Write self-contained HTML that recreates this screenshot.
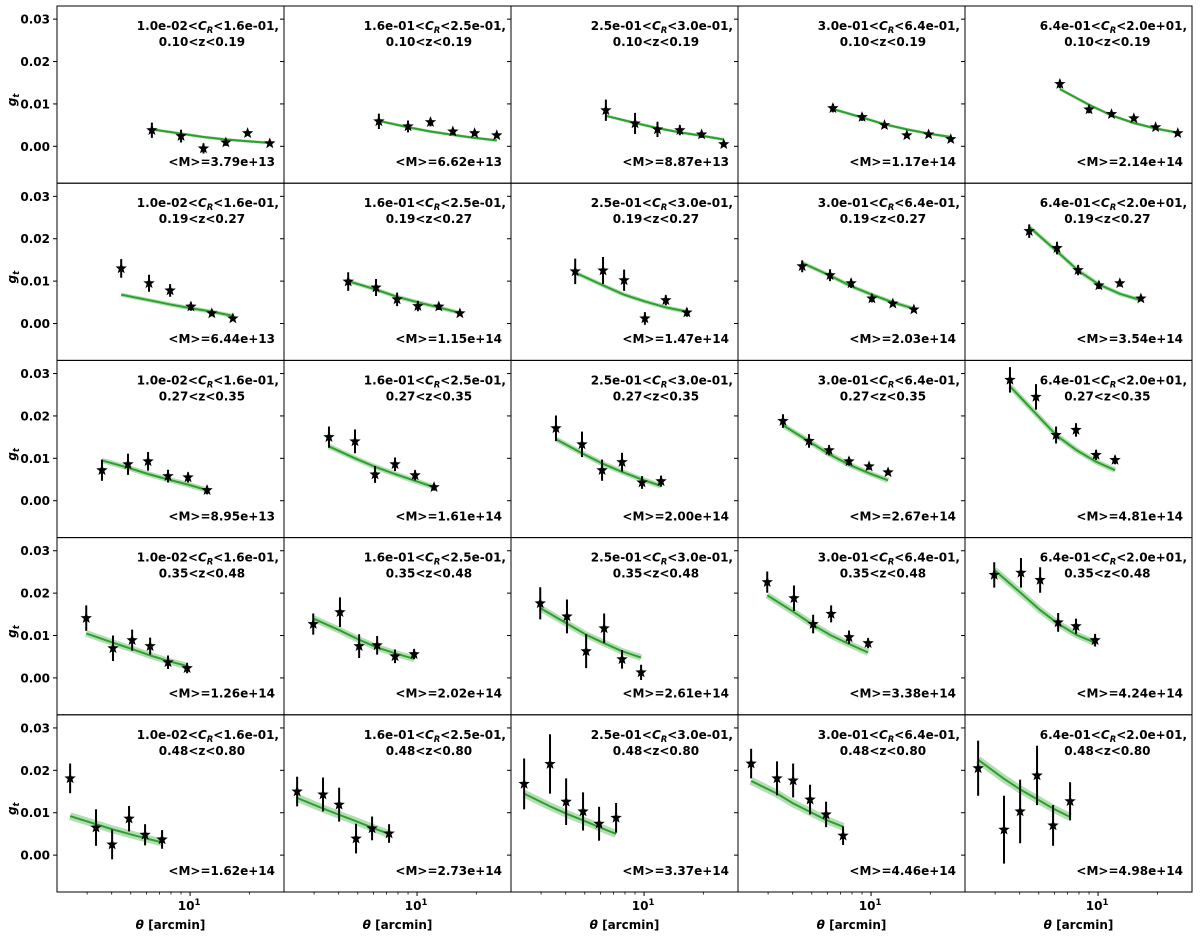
<!DOCTYPE html>
<html><head><meta charset="utf-8">
<style>
html,body{margin:0;padding:0;background:#fff;}
svg text{font-family:"DejaVu Sans","Liberation Sans",sans-serif;fill:#000;}
</style></head>
<body>
<svg id="fig" width="1200" height="932" viewBox="0 0 1200 932" xmlns="http://www.w3.org/2000/svg"></svg>
<script>
// ---- data ----
const richLabels = ["1.0e-02","1.6e-01","2.5e-01","3.0e-01","6.4e-01","2.0e+01"];
const zLabels = ["0.10","0.19","0.27","0.35","0.48","0.80"];
const massLabels = [
 ["3.79e+13","6.62e+13","8.87e+13","1.17e+14","2.14e+14"],
 ["6.44e+13","1.15e+14","1.47e+14","2.03e+14","3.54e+14"],
 ["8.95e+13","1.61e+14","2.00e+14","2.67e+14","4.81e+14"],
 ["1.26e+14","2.02e+14","2.61e+14","3.38e+14","4.24e+14"],
 ["1.62e+14","2.73e+14","3.37e+14","4.46e+14","4.98e+14"]];
const thetaRows = [
 [6.4,9.0,11.7,15.2,19.6,25.4],
 [4.47,6.19,7.92,10.1,12.9,16.5],
 [3.57,4.84,6.12,7.73,9.77,12.2],
 [2.97,4.06,5.08,6.27,7.73,9.66],
 [2.46,3.33,4.02,4.90,5.91,7.21]];
const gtObs = [
 [[0.0038,0.0024,-0.0005,0.0009,0.0031,0.0007],[0.0059,0.0047,0.0057,0.0035,0.0031,0.0026],[0.0085,0.0054,0.0040,0.0038,0.0028,0.0005],[0.0090,0.0069,0.0050,0.0026,0.0028,0.0017],[0.0147,0.0087,0.0076,0.0066,0.0045,0.0031]],
 [[0.0130,0.0095,0.0078,0.0040,0.0024,0.0012],[0.0099,0.0085,0.0057,0.0041,0.0040,0.0024],[0.0123,0.0125,0.0102,0.0012,0.0055,0.0026],[0.0135,0.0114,0.0095,0.0059,0.0047,0.0033],[0.0218,0.0178,0.0126,0.0090,0.0095,0.0059]],
 [[0.0072,0.0086,0.0093,0.0058,0.0055,0.0025],[0.0150,0.0140,0.0062,0.0086,0.0060,0.0032],[0.0171,0.0133,0.0072,0.0091,0.0043,0.0046],[0.0188,0.0141,0.0119,0.0093,0.0081,0.0067],[0.0285,0.0245,0.0155,0.0167,0.0108,0.0096]],
 [[0.0141,0.0070,0.0089,0.0075,0.0037,0.0023],[0.0127,0.0155,0.0075,0.0077,0.0051,0.0056],[0.0176,0.0145,0.0063,0.0117,0.0044,0.0013],[0.0226,0.0188,0.0127,0.0151,0.0096,0.0082],[0.0243,0.0248,0.0231,0.0131,0.0122,0.0089]],
 [[0.0181,0.0065,0.0025,0.0086,0.0048,0.0037],[0.0150,0.0143,0.0119,0.0039,0.0063,0.0051],[0.0168,0.0215,0.0126,0.0103,0.0074,0.0088],[0.0216,0.0181,0.0176,0.0131,0.0096,0.0046],[0.0205,0.0060,0.0103,0.0188,0.0070,0.0127]]];
const gtErr = [
 [[0.0018,0.0015,0.0012,0.0008,0.0005,0.0005],[0.0018,0.0014,0.0010,0.0008,0.0006,0.0005],[0.0025,0.0025,0.0018,0.0012,0.0008,0.0006],[0.0010,0.0009,0.0007,0.0006,0.0005,0.0005],[0.0010,0.0009,0.0007,0.0006,0.0005,0.0005]],
 [[0.0022,0.0020,0.0015,0.0010,0.0007,0.0005],[0.0022,0.0020,0.0016,0.0012,0.0008,0.0006],[0.0030,0.0032,0.0025,0.0015,0.0012,0.0010],[0.0014,0.0014,0.0011,0.0009,0.0006,0.0006],[0.0016,0.0015,0.0012,0.0009,0.0008,0.0006]],
 [[0.0025,0.0025,0.0022,0.0015,0.0012,0.0010],[0.0025,0.0028,0.0020,0.0016,0.0012,0.0008],[0.0030,0.0030,0.0025,0.0022,0.0015,0.0013],[0.0016,0.0016,0.0012,0.0010,0.0008,0.0006],[0.0030,0.0030,0.0020,0.0016,0.0012,0.0010]],
 [[0.0030,0.0030,0.0025,0.0020,0.0016,0.0012],[0.0025,0.0035,0.0028,0.0022,0.0016,0.0012],[0.0038,0.0040,0.0040,0.0035,0.0022,0.0018],[0.0025,0.0030,0.0022,0.0020,0.0016,0.0012],[0.0030,0.0035,0.0030,0.0022,0.0018,0.0015]],
 [[0.0035,0.0043,0.0035,0.0030,0.0025,0.0022],[0.0035,0.0040,0.0040,0.0035,0.0028,0.0022],[0.0060,0.0070,0.0055,0.0045,0.0040,0.0035],[0.0035,0.0040,0.0040,0.0035,0.0030,0.0022],[0.0065,0.0080,0.0075,0.0070,0.0048,0.0045]]];
const gtModel = [
 [[0.0040,0.0030,0.0022,0.0016,0.0012,0.0008],[0.0060,0.0045,0.0035,0.0027,0.0020,0.0014],[0.0072,0.0055,0.0043,0.0033,0.0025,0.0016],[0.0088,0.0068,0.0052,0.0040,0.0030,0.0022],[0.0135,0.0098,0.0073,0.0055,0.0042,0.0032]],
 [[0.0068,0.0055,0.0045,0.0036,0.0028,0.0018],[0.0100,0.0080,0.0063,0.0050,0.0038,0.0025],[0.0120,0.0090,0.0068,0.0052,0.0038,0.0028],[0.0143,0.0113,0.0088,0.0068,0.0050,0.0035],[0.0228,0.0170,0.0125,0.0092,0.0070,0.0055]],
 [[0.0095,0.0078,0.0063,0.0050,0.0038,0.0025],[0.0128,0.0100,0.0080,0.0063,0.0047,0.0032],[0.0145,0.0112,0.0088,0.0068,0.0050,0.0035],[0.0178,0.0140,0.0110,0.0085,0.0065,0.0048],[0.0270,0.0205,0.0155,0.0120,0.0092,0.0072]],
 [[0.0105,0.0083,0.0068,0.0053,0.0040,0.0028],[0.0140,0.0112,0.0090,0.0072,0.0058,0.0045],[0.0165,0.0128,0.0102,0.0082,0.0063,0.0048],[0.0195,0.0155,0.0125,0.0100,0.0080,0.0060],[0.0255,0.0200,0.0160,0.0128,0.0102,0.0083]],
 [[0.0092,0.0073,0.0061,0.0050,0.0040,0.0030],[0.0135,0.0110,0.0095,0.0080,0.0065,0.0050],[0.0145,0.0115,0.0098,0.0082,0.0066,0.0050],[0.0175,0.0145,0.0122,0.0102,0.0083,0.0067],[0.0225,0.0180,0.0155,0.0132,0.0110,0.0090]]];
const yTicks = [0.00,0.01,0.02,0.03];
const yTickLabels = ["0.00","0.01","0.02","0.03"];
const xMinor = [3,4,5,6,7,8,9,20];

// ---- layout ----
const NS="http://www.w3.org/2000/svg";
const svg=document.getElementById('fig');
const L0=57, PW=227, T0=6, PH=177.2;
const XMIN=Math.log10(2.11), XMAX=Math.log10(30.0);
const YMIN=-0.0087, YMAX=0.0331;
function mk(tag,attrs,parent){const e=document.createElementNS(NS,tag);for(const k in attrs)e.setAttribute(k,attrs[k]);(parent||svg).appendChild(e);return e;}
function xs(c,t){return L0+c*PW+(Math.log10(t)-XMIN)/(XMAX-XMIN)*PW;}
function ys(r,g){return T0+r*PH+(YMAX-g)/(YMAX-YMIN)*PH;}
function starPath(cx,cy,R){const r=R*0.42;let d="";for(let i=0;i<10;i++){const a=-Math.PI/2+i*Math.PI/5;const rr=i%2?r:R;d+=(i?"L":"M")+(cx+rr*Math.cos(a)).toFixed(2)+","+(cy+rr*Math.sin(a)).toFixed(2);}return d+"Z";}

for(let r=0;r<5;r++){
 for(let c=0;c<5;c++){
  const px=L0+c*PW, py=T0+r*PH;
  const g=mk('g',{});
  
  
  const cp=mk('clipPath',{id:'cp'+r+c},g);
  mk('rect',{x:px,y:py,width:PW,height:PH},cp);
  const plot=mk('g',{'clip-path':'url(#cp'+r+c+')'},g);
  // model band + line
  const th=thetaRows[r], m=gtModel[r][c];
  let d="";
  for(let i=0;i<th.length;i++){d+=(i?"L":"M")+xs(c,th[i]).toFixed(2)+","+ys(r,m[i]).toFixed(2);}
  const band=mk('path',{d:d,fill:'none',stroke:'#2ca02c','stroke-opacity':0.35,'stroke-width':3+r*1.2,'stroke-linejoin':'round'},plot);
  
  
  const line=mk('path',{d:d,fill:'none',stroke:'#2ca02c','stroke-width':2,'stroke-linejoin':'round'},plot);
  
  
  // data points
  const ob=gtObs[r][c], er=gtErr[r][c];
  for(let i=0;i<th.length;i++){
   const x=xs(c,th[i]), y=ys(r,ob[i]);
   const eb=mk('line',{x1:x,x2:x,y1:ys(r,ob[i]+er[i]),y2:ys(r,ob[i]-er[i]),stroke:'#000','stroke-width':2},plot);
   
   
   const st=mk('path',{d:starPath(x,y,6),fill:'#000'},plot);
   
   
  }
  // frame
  const fr=mk('rect',{x:px,y:py,width:PW,height:PH,fill:'none',stroke:'#000','stroke-width':1},g);
  
  
  // y ticks
  for(let k=0;k<yTicks.length;k++){
   const y=ys(r,yTicks[k]);
   mk('line',{x1:px-4,x2:px,y1:y,y2:y,stroke:'#000','stroke-width':1},g);
   if(c===0){
    const t=mk('text',{x:px-7,y:y+4.5,'text-anchor':'end','font-size':12,'font-weight':'bold'},g);
    t.textContent=yTickLabels[k];
    
    
   }
  }
  // x ticks on bottom row
  if(r===4){
   const yb=py+PH;
   mk('line',{x1:xs(c,10),x2:xs(c,10),y1:yb,y2:yb+4,stroke:'#000','stroke-width':1},g);
   for(const v of xMinor){mk('line',{x1:xs(c,v),x2:xs(c,v),y1:yb,y2:yb+2.5,stroke:'#000','stroke-width':0.8},g);}
   const t=mk('text',{x:xs(c,10)-1,y:yb+18,'text-anchor':'middle','font-size':12,'font-weight':'bold'},g);
   t.innerHTML='10<tspan dy="-5" font-size="8.5">1</tspan>';
   
   
   const xl=mk('text',{x:px+PW/2,y:yb+37,'text-anchor':'middle','font-size':12,'font-weight':'bold'},g);
   xl.innerHTML='<tspan font-style="italic">θ</tspan> [arcmin]';
   
   
  }
  // annotations
  const a1=mk('text',{x:px+PW-5,y:py+24,'text-anchor':'end','font-size':12,'font-weight':'bold'},g);
  a1.innerHTML=richLabels[c]+'&lt;<tspan font-style="italic">C</tspan><tspan dy="3" font-size="8.5" font-style="italic">R</tspan><tspan dy="-3">&lt;'+richLabels[c+1]+',</tspan>';
  
  
  const bb=a1.getBBox();
  const a2=mk('text',{x:bb.x+bb.width/2-6,y:py+40,'text-anchor':'middle','font-size':12,'font-weight':'bold'},g);
  a2.textContent=zLabels[r]+'<z<'+zLabels[r+1];
  
  
  const a3=mk('text',{x:px+PW-9,y:py+160,'text-anchor':'end','font-size':12,'font-weight':'bold'},g);
  a3.textContent='<M>='+massLabels[r][c];
  
  
 }
 const yl=mk('text',{x:0,y:0,'text-anchor':'middle','font-size':12,'font-weight':'bold',transform:'translate(16,'+(T0+r*PH+PH*0.53)+') rotate(-90)'});
 yl.innerHTML='<tspan font-style="italic">g</tspan><tspan dy="3" font-size="8.5" font-style="italic">t</tspan>';
 
 
}
</script>
</body></html>
